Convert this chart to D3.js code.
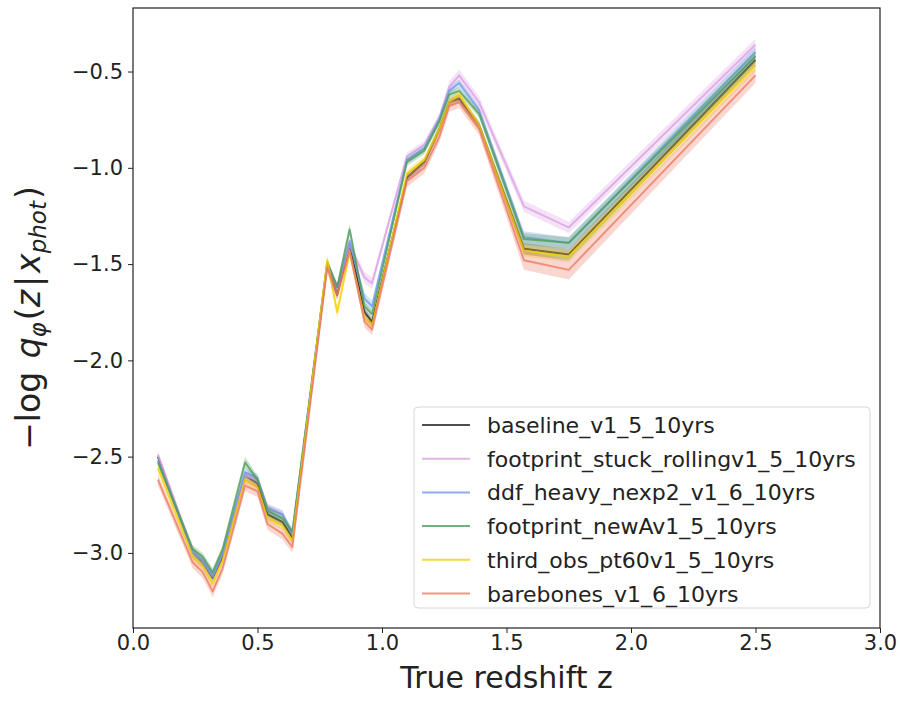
<!DOCTYPE html>
<html>
<head>
<meta charset="utf-8">
<script src="https://cdn.jsdelivr.net/npm/d3@7"></script>
<style>
  body { margin: 0; background: #fff; }
  svg text { font-family: "DejaVu Sans", sans-serif; fill: #222; }
</style>
</head>
<body>
<div class="container"></div>
<script>
// redshift grid (bin centres)
var redshift = [0.10, 0.24, 0.28, 0.32, 0.36, 0.45, 0.50, 0.54, 0.60, 0.64, 0.78, 0.82,
                0.87, 0.93, 0.96, 1.10, 1.17, 1.23, 1.27, 1.31, 1.39, 1.57, 1.75, 2.50];

var seriesNames = ["baseline_v1_5_10yrs", "footprint_stuck_rollingv1_5_10yrs",
                   "ddf_heavy_nexp2_v1_6_10yrs", "footprint_newAv1_5_10yrs",
                   "third_obs_pt60v1_5_10yrs", "barebones_v1_6_10yrs"];

var baseline = [-2.50, -3.00, -3.05, -3.13, -3.02, -2.60, -2.64, -2.80, -2.84, -2.92, -1.50, -1.66,
                -1.40, -1.75, -1.80, -1.05, -0.97, -0.80, -0.66, -0.64, -0.78, -1.42, -1.45, -0.44];
var stuckRolling = [-2.49, -2.99, -3.04, -3.12, -3.00, -2.60, -2.62, -2.76, -2.80, -2.90, -1.50, -1.62,
                -1.40, -1.57, -1.60, -0.94, -0.88, -0.74, -0.58, -0.52, -0.66, -1.20, -1.31, -0.36];
var ddfHeavy = [-2.52, -3.00, -3.04, -3.12, -3.00, -2.58, -2.61, -2.77, -2.80, -2.90, -1.50, -1.62,
                -1.38, -1.68, -1.72, -0.96, -0.90, -0.75, -0.60, -0.56, -0.70, -1.36, -1.39, -0.40];
var newA = [-2.53, -2.98, -3.02, -3.10, -2.98, -2.53, -2.62, -2.78, -2.82, -2.89, -1.49, -1.62,
                -1.32, -1.72, -1.76, -0.97, -0.91, -0.76, -0.62, -0.60, -0.72, -1.37, -1.39, -0.42];
var thirdObs = [-2.56, -3.02, -3.07, -3.16, -3.04, -2.62, -2.66, -2.82, -2.86, -2.94, -1.48, -1.75,
                -1.44, -1.78, -1.82, -1.03, -0.96, -0.80, -0.66, -0.62, -0.78, -1.43, -1.46, -0.47];
var barebones = [-2.62, -3.05, -3.10, -3.20, -3.08, -2.65, -2.68, -2.85, -2.90, -2.97, -1.52, -1.66,
                -1.43, -1.80, -1.84, -1.07, -1.00, -0.84, -0.68, -0.66, -0.80, -1.48, -1.53, -0.52];

// half widths of the shaded bands
var baselineErr = [0.02, 0.02, 0.02, 0.02, 0.02, 0.02, 0.02, 0.02, 0.02, 0.02, 0.02, 0.02,
                   0.02, 0.02, 0.02, 0.02, 0.02, 0.02, 0.02, 0.02, 0.02, 0.03, 0.03, 0.03];
var stuckRollingErr = [0.02, 0.02, 0.02, 0.02, 0.02, 0.02, 0.02, 0.02, 0.02, 0.02, 0.02, 0.02,
                   0.02, 0.03, 0.03, 0.02, 0.02, 0.02, 0.03, 0.03, 0.03, 0.03, 0.03, 0.03];
var ddfHeavyErr = [0.02, 0.02, 0.02, 0.02, 0.02, 0.02, 0.02, 0.02, 0.02, 0.02, 0.02, 0.02,
                   0.02, 0.03, 0.03, 0.02, 0.02, 0.02, 0.02, 0.02, 0.02, 0.03, 0.03, 0.03];
var newAErr = [0.02, 0.02, 0.02, 0.02, 0.02, 0.03, 0.02, 0.02, 0.02, 0.02, 0.02, 0.02,
                   0.03, 0.02, 0.02, 0.02, 0.02, 0.02, 0.02, 0.02, 0.02, 0.03, 0.03, 0.03];
var thirdObsErr = [0.02, 0.02, 0.02, 0.02, 0.02, 0.02, 0.02, 0.02, 0.02, 0.02, 0.03, 0.03,
                   0.02, 0.02, 0.02, 0.02, 0.02, 0.02, 0.02, 0.02, 0.02, 0.03, 0.03, 0.03];
var barebonesErr = [0.03, 0.03, 0.03, 0.03, 0.03, 0.03, 0.03, 0.03, 0.03, 0.03, 0.03, 0.03,
                   0.03, 0.03, 0.03, 0.03, 0.03, 0.03, 0.03, 0.03, 0.03, 0.05, 0.05, 0.04];

var seriesColors = ["#222222", "#dc9fe4", "#6f9be8", "#4f9d5c", "#f5d000", "#ec7b62"];

var xTicks = [0.0, 0.5, 1.0, 1.5, 2.0, 2.5, 3.0];
var yTicks = [-3.0, -2.5, -2.0, -1.5, -1.0, -0.5];

var loadChart = function(){
    var width = 900, height = 702;
    var left = 133, right = 880, top = 8, bottom = 628;

    var values = [baseline, stuckRolling, ddfHeavy, newA, thirdObs, barebones];
    var errs = [baselineErr, stuckRollingErr, ddfHeavyErr, newAErr, thirdObsErr, barebonesErr];

    var svg = d3.select('.container')
                .append('svg')
                .attr('width', width)
                .attr('height', height);

    var x = d3.scaleLinear().domain([0, 3]).range([left, right]);
    var y = d3.scaleLinear().domain([-3.39, -0.17]).range([bottom, top]);

    var area = d3.area()
        .x(function(d){ return x(d.z); })
        .y0(function(d){ return y(d.v - d.e); })
        .y1(function(d){ return y(d.v + d.e); });

    var line = d3.line()
        .x(function(d){ return x(d.z); })
        .y(function(d){ return y(d.v); });

    var rows = values.map(function(vals, i){
        return redshift.map(function(z, j){
            return {z: z, v: vals[j], e: errs[i][j]};
        });
    });

    var plot = svg.append('g');

    rows.forEach(function(r, i){
        plot.append('path')
            .attr('d', area(r))
            .attr('fill', seriesColors[i])
            .attr('fill-opacity', 0.3)
            .attr('stroke', 'none');
        plot.append('path')
            .attr('d', line(r))
            .attr('fill', 'none')
            .attr('stroke', seriesColors[i])
            .attr('stroke-opacity', 0.8)
            .attr('stroke-width', 1.9)
            .attr('stroke-linejoin', 'round');
    });

    // axes
    var fmt = function(d){ return d3.format('.1f')(d).replace('-', '\u2212'); };

    var xAxis = svg.append('g')
        .attr('transform', 'translate(0,' + bottom + ')')
        .call(d3.axisBottom(x).tickValues(xTicks).tickFormat(fmt).tickSize(5).tickPadding(2));
    var yAxis = svg.append('g')
        .attr('transform', 'translate(' + left + ',0)')
        .call(d3.axisLeft(y).tickValues(yTicks).tickFormat(fmt).tickSize(5).tickPadding(5));

    [xAxis, yAxis].forEach(function(a){
        a.select('.domain').remove();
        a.selectAll('line').attr('stroke', '#222').attr('stroke-width', 1);
        a.selectAll('text').attr('font-size', 21).attr('font-family', 'DejaVu Sans').attr('fill', '#222');
    });

    svg.append('rect')
        .attr('x', left).attr('y', top)
        .attr('width', right - left).attr('height', bottom - top)
        .attr('fill', 'none').attr('stroke', '#222').attr('stroke-width', 1.2);

    // axis titles
    svg.append('text')
        .attr('x', (left + right) / 2).attr('y', 688)
        .attr('text-anchor', 'middle')
        .attr('font-size', 30)
        .text('True redshift z');

    var yl = svg.append('text')
        .attr('transform', 'translate(40,318) rotate(-90)')
        .attr('text-anchor', 'middle')
        .attr('font-size', 33);
    yl.append('tspan').text('\u2212log ');
    yl.append('tspan').attr('font-style', 'italic').attr('dx', 3).text('q');
    yl.append('tspan').attr('font-style', 'italic').attr('font-size', 23).attr('dy', 6).text('\u03c6');
    yl.append('tspan').attr('dy', -6).attr('dx', 2).text('(');
    yl.append('tspan').attr('font-style', 'italic').text('z');
    yl.append('tspan').attr('dx', 3).text('|');
    yl.append('tspan').attr('font-style', 'italic').attr('dx', 3).text('x');
    yl.append('tspan').attr('font-style', 'italic').attr('font-size', 23).attr('dy', 6).text('phot');
    yl.append('tspan').attr('dy', -6).attr('dx', 2).text(')');

    // legend
    var lg = svg.append('g').attr('transform', 'translate(414,407)');
    lg.append('rect')
        .attr('width', 456).attr('height', 201)
        .attr('rx', 4).attr('ry', 4)
        .attr('fill', '#fff').attr('fill-opacity', 0.85)
        .attr('stroke', '#d6d6d6');

    seriesNames.forEach(function(name, i){
        var ry = 18 + i * 33.7;
        lg.append('line')
            .attr('x1', 8).attr('x2', 56)
            .attr('y1', ry).attr('y2', ry)
            .attr('stroke', seriesColors[i])
            .attr('stroke-opacity', 0.8)
            .attr('stroke-width', 2);
        lg.append('text')
            .attr('x', 73).attr('y', ry + 8)
            .attr('font-size', 22)
            .text(name);
    });
}
window.onload = loadChart;
</script>
</body>
</html>
